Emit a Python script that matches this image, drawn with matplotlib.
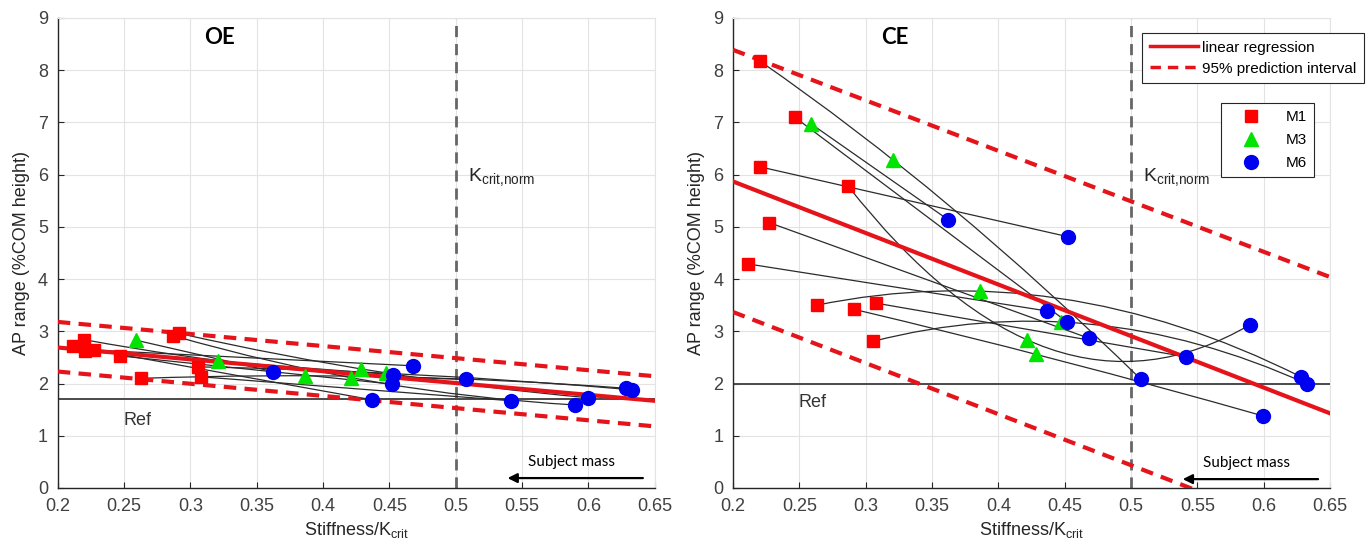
import numpy as np
import matplotlib
matplotlib.use("Agg")
import matplotlib.pyplot as plt
from matplotlib.path import Path
from matplotlib.patches import PathPatch
from matplotlib.lines import Line2D

plt.rcParams['font.family'] = ['Liberation Sans', 'DejaVu Sans']

# ---------------- data ----------------
# M1 points (labels A..J): stiffness, OE value, CE value
m1_x  = [0.220, 0.2466, 0.2203, 0.2865, 0.2275, 0.2115, 0.263, 0.2915, 0.3078, 0.3058]
m1_oe = [2.84, 2.53, 2.62, 2.92, 2.64, 2.72, 2.10, 2.96, 2.13, 2.32]
m1_ce = [8.18, 7.10, 6.15, 5.79, 5.08, 4.29, 3.50, 3.42, 3.54, 2.81]

# M3 points (labels a..f)
m3_x  = [0.259, 0.3208, 0.386, 0.4213, 0.4285, 0.4475]
m3_oe = [2.83, 2.44, 2.15, 2.11, 2.28, 2.20]
m3_ce = [6.97, 6.28, 3.77, 2.84, 2.56, 3.18]

# M6 points (labels p..z)
m6_x  = [0.362, 0.4528, 0.4367, 0.4518, 0.468, 0.5075, 0.5418, 0.590, 0.5995, 0.628, 0.633]
m6_oe = [2.23, 2.17, 1.69, 1.99, 2.34, 2.08, 1.67, 1.59, 1.73, 1.91, 1.88]
m6_ce = [5.14, 4.81, 3.39, 3.18, 2.87, 2.08, 2.51, 3.13, 1.38, 2.13, 1.99]

# subject links: (M1 index, M3 index, M6 index), None = missing
links = [(0, 1, 5), (1, None, 3), (None, 0, 0), (2, None, 1), (3, 3, 7),
         (4, None, 4), (5, None, 2), (6, 2, 9), (7, 4, 8), (8, None, 6), (9, 5, 10)]

# regression & 95% prediction interval at x = 0.2 and 0.65
fit_x = [0.2, 0.65]
oe_reg, oe_hi, oe_lo = [2.69, 1.67], [3.18, 2.14], [2.23, 1.18]
ce_reg, ce_hi, ce_lo = [5.87, 1.43], [8.39, 4.04], [3.37, -1.03]

ref_oe, ref_ce = 1.70, 2.0
k_crit_norm = 0.5

xticks = [0.2, 0.25, 0.3, 0.35, 0.4, 0.45, 0.5, 0.55, 0.6, 0.65]
xticklabels = ['0.2', '0.25', '0.3', '0.35', '0.4', '0.45', '0.5', '0.55', '0.6', '0.65']
yticks = list(range(0, 10))

RED = '#ff0000'
LRED = '#e5141b'
GREEN = '#00e400'
BLUE = '#0000f0'


def draw_link(ax, pts):
    pts = [p for p in pts if p is not None]
    if len(pts) == 2:
        verts = pts
        codes = [Path.MOVETO, Path.LINETO]
    else:
        (x0, y0), (x1, y1), (x2, y2) = pts
        f01 = (y1 - y0) / (x1 - x0)
        f12 = (y2 - y1) / (x2 - x1)
        a = (f12 - f01) / (x2 - x0)
        d0 = f01 + a * (x0 - x1)
        cx = (x0 + x2) / 2
        cy = y0 + d0 * (x2 - x0) / 2
        verts = [(x0, y0), (cx, cy), (x2, y2)]
        codes = [Path.MOVETO, Path.CURVE3, Path.CURVE3]
    ax.add_patch(PathPatch(Path(verts, codes), facecolor='none',
                           edgecolor='#2b2b2b', lw=0.9, zorder=3))


def panel(ax, y1, y3, y6, reg, hi, lo, ref, title, ref_y, arrow_y, text_y):
    ax.set_xlim(0.2, 0.65)
    ax.set_ylim(0, 9)
    ax.set_xticks(xticks)
    ax.set_xticklabels(xticklabels)
    ax.set_yticks(yticks)
    ax.grid(True, color='#e3e3e3', lw=0.8)
    ax.set_axisbelow(True)
    for s in ['top', 'right']:
        ax.spines[s].set_color('#e3e3e3')
    for s in ['left', 'bottom']:
        ax.spines[s].set_color('#262626')
        ax.spines[s].set_linewidth(1.0)
    ax.tick_params(direction='in', length=4, labelsize=13, labelcolor='#404040',
                   color='#262626', top=False, right=False, pad=7)
    ax.set_ylabel('AP range (%COM height)', fontsize=13, color='#262626', labelpad=6)
    ax.set_xlabel(r'Stiffness/K$_{\mathregular{crit}}$', fontsize=13, color='#262626', labelpad=4)

    for i1, i3, i6 in links:
        pts = [(m1_x[i1], y1[i1]) if i1 is not None else None,
               (m3_x[i3], y3[i3]) if i3 is not None else None,
               (m6_x[i6], y6[i6])]
        draw_link(ax, pts)

    ax.axhline(ref, color='#4a4a4a', lw=1.4, zorder=2)
    ax.axvline(k_crit_norm, color='#666666', lw=2, ls=(0, (4, 2.5)), zorder=2)
    ax.plot(fit_x, reg, color=LRED, lw=3, zorder=4)
    ax.plot(fit_x, hi, color=LRED, lw=3, ls=(0, (3, 2)), zorder=4)
    ax.plot(fit_x, lo, color=LRED, lw=3, ls=(0, (3, 2)), zorder=4)

    ax.plot(m1_x, y1, 's', color=RED, ms=9, ls='none', zorder=5)
    ax.plot(m3_x, y3, '^', color=GREEN, ms=10, ls='none', zorder=5)
    ax.plot(m6_x, y6, 'o', color=BLUE, ms=10, ls='none', zorder=5)

    ax.text(0.322, 8.63, title, fontsize=16, fontweight='bold', family='Lato',
            ha='center', va='center')
    ax.text(0.26, ref_y, 'Ref', fontsize=13, color='#333333', ha='center', va='center')
    ax.text(0.509, 5.94, r'K$_{\mathregular{crit{,}norm}}$', fontsize=14,
            color='#262626', ha='left', va='center')
    ax.text(0.587, text_y, 'Subject mass', fontsize=11, family='Lato',
            ha='center', va='center')
    ax.annotate('', xy=(0.539, arrow_y), xytext=(0.641, arrow_y),
                arrowprops=dict(arrowstyle='-|>', color='black', lw=1.6,
                                mutation_scale=14, shrinkA=0, shrinkB=0))


fig = plt.figure(figsize=(13.66, 5.52), dpi=100)
ax1 = fig.add_axes([57.8 / 1366, 64 / 552, 597 / 1366, 470 / 552])
ax2 = fig.add_axes([733 / 1366, 64 / 552, 597 / 1366, 470 / 552])

panel(ax1, m1_oe, m3_oe, m6_oe, oe_reg, oe_hi, oe_lo, ref_oe, 'OE', 1.30, 0.19, 0.50)
panel(ax2, m1_ce, m3_ce, m6_ce, ce_reg, ce_hi, ce_lo, ref_ce, 'CE', 1.63, 0.17, 0.48)

h1 = [Line2D([], [], color=LRED, lw=2.5),
      Line2D([], [], color=LRED, lw=2.5, ls=(0, (3, 2)))]
leg1 = ax2.legend(h1, ['linear regression', '95% prediction interval'],
                  loc='upper left', bbox_to_anchor=(0.685, 0.968), fontsize=11,
                  frameon=True, fancybox=False, edgecolor='#262626', framealpha=1,
                  handlelength=3.2, handletextpad=0.25, borderpad=0.5,
                  labelspacing=0.45, borderaxespad=0)
leg1.get_frame().set_linewidth(0.8)
ax2.add_artist(leg1)

h2 = [Line2D([], [], marker='s', color=RED, ls='none', ms=9),
      Line2D([], [], marker='^', color=GREEN, ls='none', ms=10),
      Line2D([], [], marker='o', color=BLUE, ls='none', ms=10)]
leg2 = ax2.legend(h2, ['M1', 'M3', 'M6'], loc='upper left',
                  bbox_to_anchor=(0.817, 0.819), fontsize=11, frameon=True,
                  fancybox=False, edgecolor='#262626', framealpha=1,
                  handlelength=3.0, handletextpad=0.8, borderpad=0.45,
                  labelspacing=0.6, borderaxespad=0)
leg2.get_frame().set_linewidth(0.8)

fig.savefig('out.png', dpi=100)
